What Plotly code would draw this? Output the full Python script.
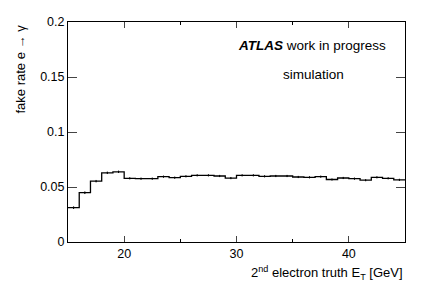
import plotly.graph_objects as go

bin_edges = list(range(15, 46))
fake_rate = [0.0312, 0.0448, 0.0553, 0.0629, 0.0638, 0.0579, 0.0576, 0.0576, 0.0594, 0.0585,
             0.0597, 0.0606, 0.0606, 0.0600, 0.0581, 0.0606, 0.0606, 0.0597, 0.0600, 0.0600,
             0.0591, 0.0588, 0.0594, 0.0568, 0.0582, 0.0576, 0.0562, 0.0588, 0.0579, 0.0565]
fake_err = [0.0012, 0.0012, 0.0011, 0.0011, 0.0011, 0.0010, 0.0010, 0.0010, 0.0010, 0.0010,
            0.0010, 0.0010, 0.0010, 0.0010, 0.0010, 0.0010, 0.0010, 0.0010, 0.0010, 0.0010,
            0.0010, 0.0010, 0.0010, 0.0010, 0.0010, 0.0010, 0.0010, 0.0010, 0.0010, 0.0010]
x_ticks = [20, 30, 40]
y_ticks = [0, 0.05, 0.1, 0.15, 0.2]
y_ticklabels = ["0", "0.05", "0.1", "0.15", "0.2"]

centers = [(bin_edges[i] + bin_edges[i + 1]) / 2 for i in range(len(fake_rate))]

fig = go.Figure()
fig.add_trace(go.Scatter(
    x=bin_edges, y=fake_rate + [fake_rate[-1]],
    mode="lines", line=dict(shape="hv", color="black", width=1.3),
    hoverinfo="skip", showlegend=False))
fig.add_trace(go.Scatter(
    x=centers, y=fake_rate, mode="markers",
    marker=dict(size=1, color="black"),
    error_y=dict(type="data", array=fake_err, visible=True, width=0, thickness=1, color="black"),
    showlegend=False))

font = "Liberation Sans, Arial, sans-serif"
fig.update_layout(
    width=419, height=282,
    margin=dict(l=60, r=22, t=7, b=48),
    paper_bgcolor="white", plot_bgcolor="white",
    font=dict(family=font, size=13, color="black"),
    xaxis=dict(range=[15, 45], tickvals=x_ticks, ticks="inside", ticklen=6,
               showline=True, linecolor="black", linewidth=1, mirror="allticks",
               showgrid=False, zeroline=False, tickfont=dict(size=12.5),
               ticklabeloverflow="allow",
               minor=dict(tickvals=[25, 35], ticks="inside", ticklen=3, tickcolor="black")),
    yaxis=dict(range=[0, 0.2], tickvals=y_ticks, ticktext=y_ticklabels, ticks="inside",
               ticklen=9, showline=True, linecolor="black", linewidth=1, mirror="allticks",
               showgrid=False, zeroline=False, tickfont=dict(size=12.5),
               ticklabeloverflow="allow"),
    annotations=[
        dict(text="fake rate e \u2192 \u03b3", xref="paper", yref="paper", x=0, y=1,
             xanchor="center", yanchor="top", xshift=-48, yshift=-1, textangle=-90,
             showarrow=False, font=dict(size=13)),
        dict(text="2<sup>nd</sup> electron truth E<sub>T</sub> [GeV]", xref="paper", yref="paper",
             x=1, y=0, xanchor="right", yanchor="top", yshift=-20, showarrow=False,
             font=dict(size=13)),
        dict(text="<b><i>ATLAS</i></b> work in progress", xref="paper", yref="paper",
             x=0.95, y=0.895, xanchor="right", yanchor="middle", showarrow=False,
             font=dict(size=13.5)),
        dict(text="simulation", xref="paper", yref="paper",
             x=0.729, y=0.762, xanchor="center", yanchor="middle", showarrow=False,
             font=dict(size=13.5)),
    ],
)
fig.write_html("out.html")
